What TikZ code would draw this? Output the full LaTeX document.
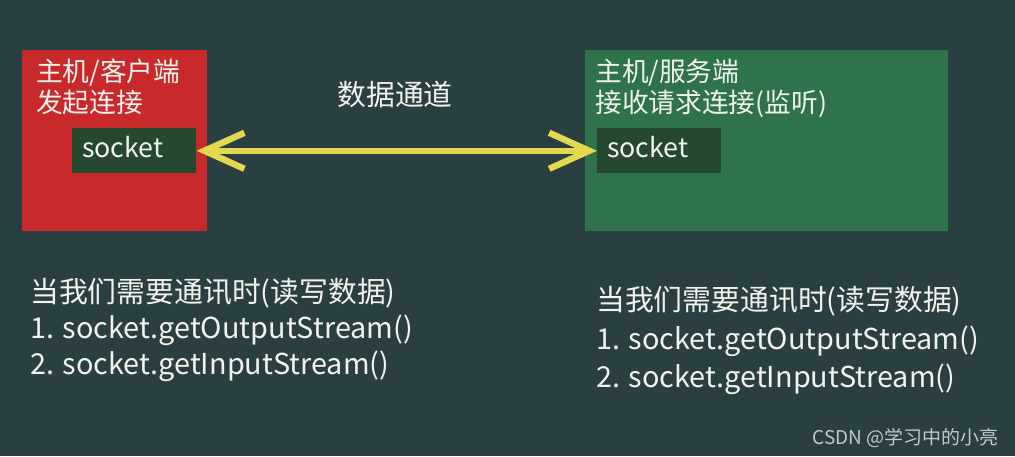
\documentclass[tikz,border=0pt]{standalone}
\usepackage{fontspec}
\setmainfont{Noto Sans CJK SC}
\usepackage{tikz}
\usetikzlibrary{positioning,arrows.meta,fit}
\usepackage{xcolor}
\definecolor{board}{HTML}{2A3F42}
\definecolor{clientred}{HTML}{C8292B}
\definecolor{servergreen}{HTML}{2E7349}
\definecolor{socketgreen}{HTML}{25482F}
\definecolor{channelyellow}{HTML}{E2D94F}
\definecolor{chalk}{HTML}{F2F2EE}
\definecolor{wmgray}{HTML}{C4C8C8}

\begin{document}
\begin{tikzpicture}[
    x=0.025cm, y=-0.025cm,
    host/.style={
        inner sep=0pt,
        draw=none
    },
    sockbox/.style={
        fill=socketgreen,
        anchor=north west,
        inner xsep=0.25cm,
        inner ysep=0pt,
        text width=2.6cm,
        text depth=5.6pt,
        minimum height=1.125cm,
        align=left,
        text=chalk,
        font=\fontsize{19}{22}\selectfont
    },
    title/.style={
        anchor=north west,
        inner sep=0pt,
        align=left,
        text=chalk,
        font=\fontsize{19}{22}\selectfont
    },
    note/.style={
        anchor=north west,
        inner sep=0pt,
        align=left,
        text=chalk,
        font=\fontsize{20.5}{25.6}\selectfont
    },
    channel/.style={
        draw=channelyellow,
        line width=0.16cm,
        {Straight Barb[length=1cm,width=0.9cm]}-{Straight Barb[length=1cm,width=0.9cm]}
    }
]
\fill[board] (0,0) rectangle (1015,456);
\useasboundingbox (0,0) rectangle (1015,456);

\node[host, fill=clientred, fit={(22,50) (207,231)}] (client) {};
\node[host, fill=servergreen, fit={(585,50) (948,231)}] (server) {};

\node[title] (clienttitle) at (36,59) {主机/客户端\\发起连接};
\node[title] (servertitle) at (595,59) {主机/服务端\\接收请求连接(监听)};

\node[sockbox] (lsock) at (72,128) {socket};
\node[sockbox] (rsock) at (597,128) {socket};

\draw[channel] (lsock.east) -- (rsock.west);
\node[text=chalk, font=\fontsize{20.5}{24}\selectfont] (pipe) at (395,95) {数据通道};

\node[note] (clientnote) at (30,278) {当我们需要通讯时(读写数据)\\
    1. socket.getOutputStream()\\
    2. socket.getInputStream()};
\node[note, font=\fontsize{20.5}{27.4}\selectfont] (servernote) at (596,286) {当我们需要通讯时(读写数据)\\
    1. socket.getOutputStream()\\
    2. socket.getInputStream()};

\node[anchor=east, inner sep=0pt, text=wmgray, font=\fontsize{13.5}{16}\selectfont] (watermark) at (999,438) {CSDN @学习中的小亮};
\end{tikzpicture}
\end{document}
